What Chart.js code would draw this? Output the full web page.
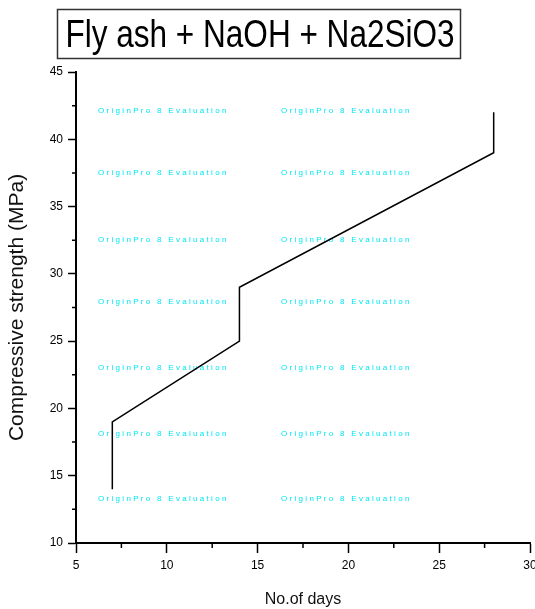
<!DOCTYPE html>
<html lang="en">
<head>
    <meta charset="UTF-8">
    <title>Fly ash + NaOH + Na2SiO3</title>
    <script src="https://cdnjs.cloudflare.com/ajax/libs/Chart.js/4.4.1/chart.umd.min.js"></script>
    <style>
        html, body {margin: 0; padding: 0; background: #fff;}
        canvas {display: block;}
    </style>
</head>
<body>
    <canvas id="strengthChart" width="535" height="609"></canvas>

    <script>
        // values
        const days = [7, 7, 14, 14, 28, 28];
        const strength = [14, 19, 25, 29, 39, 42];
        const xTicks = [5, 10, 15, 20, 25, 30];
        const yTicks = [10, 15, 20, 25, 30, 35, 40, 45];
        const chartTitle = "Fly ash + NaOH + Na2SiO3";
        const watermark = "OriginPro 8 Evaluation";

        // title box, minor ticks and the evaluation watermark
        const decor = {
            id: "decor",
            beforeDatasetsDraw(chart) {
                const ctx = chart.ctx;
                ctx.save();
                ctx.fillStyle = "#00e8f4";
                ctx.font = "8px Arial";
                ctx.letterSpacing = "2.3px";
                ctx.textBaseline = "middle";
                const rows = [111, 173, 240, 302, 368, 434, 499];
                rows.forEach(y => {
                    ctx.fillText(watermark, 98, y);
                    ctx.fillText(watermark, 281, y);
                });
                ctx.restore();
            },
            afterDraw(chart) {
                const ctx = chart.ctx;
                const xs = chart.scales.x, ys = chart.scales.y;
                ctx.save();
                ctx.strokeStyle = "#000";
                ctx.lineWidth = 1.5;
                ctx.beginPath();
                for (let v = 7.5; v < 30; v += 5) {
                    const px = xs.getPixelForValue(v);
                    ctx.moveTo(px, ys.bottom);
                    ctx.lineTo(px, ys.bottom + 5);
                }
                for (let v = 12.5; v < 45; v += 5) {
                    const py = ys.getPixelForValue(v);
                    ctx.moveTo(xs.left, py);
                    ctx.lineTo(xs.left - 4, py);
                }
                ctx.stroke();

                ctx.lineWidth = 1.5;
                ctx.strokeStyle = "#333";
                ctx.strokeRect(57.5, 9.5, 403, 49);
                ctx.translate(260, 47);
                ctx.scale(0.83, 1);
                ctx.fillStyle = "#000";
                ctx.font = "38px Arial";
                ctx.textAlign = "center";
                ctx.textBaseline = "alphabetic";
                ctx.fillText(chartTitle, 0, 0);
                ctx.restore();
            }
        };

        const strengthChart = new Chart(document.getElementById("strengthChart"), {
            type: "line",
            data: {
                datasets: [{
                    data: days.map((d, i) => ({x: d, y: strength[i]})),
                    borderColor: "#000",
                    borderWidth: 1.5,
                    pointRadius: 0,
                    tension: 0,
                    fill: false
                }]
            },
            options: {
                responsive: false,
                animation: false,
                events: [],
                layout: {padding: {left: 0, top: 72, right: 5, bottom: 0}},
                plugins: {legend: {display: false}, tooltip: {enabled: false}},
                scales: {
                    x: {
                        type: "linear",
                        min: 5,
                        max: 30,
                        afterBuildTicks: s => { s.ticks = xTicks.map(v => ({value: v})); },
                        afterFit: s => { s.height = 66; s.paddingLeft = 0; s.paddingRight = 0; },
                        border: {display: true, color: "#000", width: 2},
                        grid: {drawOnChartArea: false, drawTicks: true, tickLength: 10, tickWidth: 1.5, tickColor: "#000"},
                        ticks: {color: "#000", font: {family: "Arial", size: 12}, padding: 5, maxRotation: 0, autoSkip: false},
                        title: {display: true, text: "No.of days", color: "#111", font: {family: "Arial", size: 16}, padding: {top: 0, bottom: 0}}
                    },
                    y: {
                        type: "linear",
                        min: 10,
                        max: 45,
                        afterBuildTicks: s => { s.ticks = yTicks.map(v => ({value: v})); },
                        afterFit: s => { s.width = 76; s.paddingTop = 0; s.paddingBottom = 0; },
                        border: {display: true, color: "#000", width: 2},
                        grid: {drawOnChartArea: false, drawTicks: true, tickLength: 8, tickWidth: 1.5, tickColor: "#000"},
                        ticks: {color: "#000", font: {family: "Arial", size: 12}, padding: 5, autoSkip: false},
                        title: {display: true, text: "Compressive strength (MPa)", color: "#111", font: {family: "Arial", size: 21}, padding: {top: 5, bottom: 0}}
                    }
                }
            },
            plugins: [decor]
        });
    </script>
</body>
</html>
